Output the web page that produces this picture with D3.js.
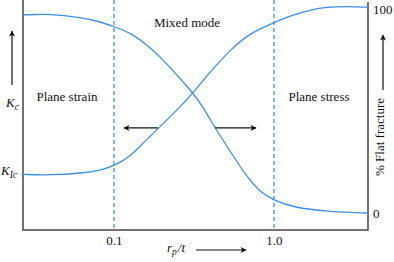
<!DOCTYPE html>
<html>
<head>
<meta charset="utf-8">
<script src="https://cdn.jsdelivr.net/npm/d3@7"></script>
<style>
  html, body { margin: 0; padding: 0; background: #fff; }
  svg { display: block; }
  text { font-family: "Liberation Serif", "Times New Roman", serif; fill: #111; }
</style>
</head>
<body>
<svg id="chart" width="394" height="262"></svg>
<script>
// ---- data ----
const xTickValues = [0.1, 1.0];
const xTickLabels = ["0.1", "1.0"];
const flatTickValues = [0, 100];
const flatTickLabels = ["0", "100"];
const kTickValues = [18.8, 52];
const kTickMain = ["K", "K"];
const kTickSub = ["Ic", "c"];

// % flat fracture curve (decreasing)
const flatX = [0.027, 0.040, 0.061, 0.082, 0.1, 0.126, 0.168, 0.224, 0.270, 0.312, 0.360, 0.428, 0.531, 0.678, 0.818, 1.0, 1.31, 2.14, 3.87];
const flatY = [97.1, 97.6, 96.0, 93.8, 91.3, 88.5, 81.4, 71.6, 64.2, 58.8, 52.0, 41.7, 30.4, 17.6, 10.3, 6.2, 2.9, 0.6, 0.0];

// toughness K curve (increasing), arbitrary units
const kX = [0.027, 0.040, 0.064, 0.082, 0.1, 0.126, 0.152, 0.188, 0.248, 0.312, 0.398, 0.531, 0.708, 1.0, 1.31, 1.68, 2.14, 2.86, 3.87];
const kY = [18.8, 18.4, 19.4, 20.8, 22.9, 27.4, 34.1, 40.9, 50.1, 58.4, 68.6, 79.3, 87.6, 92.6, 96.4, 98.8, 100.2, 100.5, 100.1];

// transition boundaries (dashed lines)
const boundaries = [0.1, 1.0];

// annotation arrows in the mixed-mode region: [from, to] in rp/t, at % level
const mixedArrows = [[0.188, 0.1155], [0.428, 0.772]];
const mixedArrowLevel = 41.7;

const regionLabels = ["Plane strain", "Mixed mode", "Plane stress"];

// ---- layout ----
const L = 23, R = 368, T = 0, B = 230;
const blue = "#3d8ee8";
const axisColor = "#444";

const svg = d3.select("#chart");

const x = d3.scaleLog().domain([0.027, 3.87]).range([L, R]);
const yFlat = d3.scaleLinear().domain([0, 100]).range([213, 9]);
const yK = d3.scaleLinear().domain([0, 100]).range([213, 7.5]);

// markers
const defs = svg.append("defs");
defs.append("marker")
  .attr("id", "head")
  .attr("viewBox", "0 0 10 10")
  .attr("refX", 9).attr("refY", 5)
  .attr("markerWidth", 8).attr("markerHeight", 6)
  .attr("markerUnits", "userSpaceOnUse")
  .attr("orient", "auto")
  .append("path").attr("d", "M0,0 L10,5 L0,10 L2.5,5 Z").attr("fill", "#111");

// dashed boundaries
svg.append("g").selectAll("line").data(boundaries).join("line")
  .attr("x1", d => x(d)).attr("x2", d => x(d))
  .attr("y1", T).attr("y2", B)
  .attr("stroke", blue).attr("stroke-width", 1.3)
  .attr("stroke-dasharray", "4,3");

// frame
svg.append("path")
  .attr("d", `M${L},${T} V${B} H${R} V${T + 2}`)
  .attr("fill", "none").attr("stroke", axisColor).attr("stroke-width", 1.5);

// curves
const flatData = flatX.map((v, i) => [v, flatY[i]]);
const kData = kX.map((v, i) => [v, kY[i]]);

svg.append("path").datum(flatData)
  .attr("fill", "none").attr("stroke", blue).attr("stroke-width", 1.3)
  .attr("d", d3.line().x(d => x(d[0])).y(d => yFlat(d[1])).curve(d3.curveBasis));

svg.append("path").datum(kData)
  .attr("fill", "none").attr("stroke", blue).attr("stroke-width", 1.3)
  .attr("d", d3.line().x(d => x(d[0])).y(d => yK(d[1])).curve(d3.curveBasis));

// bottom axis labels
const xAxis = d3.axisBottom(x).tickValues(xTickValues)
  .tickFormat((d, i) => xTickLabels[i]).tickSize(0).tickPadding(6);
const gx = svg.append("g").attr("transform", `translate(0,${B})`).call(xAxis);
gx.select(".domain").remove();
gx.selectAll("text").attr("font-size", 13).attr("font-family", "Liberation Serif").attr("fill", "#111");

// right axis labels
const yAxisR = d3.axisRight(yFlat).tickValues(flatTickValues)
  .tickFormat((d, i) => flatTickLabels[i]).tickSize(0).tickPadding(5);
const gr = svg.append("g").attr("transform", `translate(${R},0)`).call(yAxisR);
gr.select(".domain").remove();
gr.selectAll("text").attr("font-size", 13).attr("font-family", "Liberation Serif").attr("fill", "#111");

// left K labels
const kl = svg.append("g").selectAll("text").data(kTickValues).join("text")
  .attr("x", (d, i) => i === 0 ? 1 : 6)
  .attr("y", d => yK(d) + 1)
  .attr("font-size", 13).attr("font-style", "italic");
kl.append("tspan").text((d, i) => kTickMain[i]);
kl.append("tspan").attr("dy", 3).attr("font-size", 9.5).text((d, i) => kTickSub[i]);

// region labels
svg.append("text").attr("x", 67).attr("y", 101).attr("text-anchor", "middle").attr("font-size", 13).text(regionLabels[0]);
svg.append("text").attr("x", 187).attr("y", 27).attr("text-anchor", "middle").attr("font-size", 13).text(regionLabels[1]);
svg.append("text").attr("x", 319).attr("y", 101).attr("text-anchor", "middle").attr("font-size", 13).text(regionLabels[2]);

// mixed-mode arrows
svg.append("g").selectAll("line").data(mixedArrows).join("line")
  .attr("x1", d => x(d[0])).attr("x2", d => x(d[1]))
  .attr("y1", yFlat(mixedArrowLevel)).attr("y2", yFlat(mixedArrowLevel))
  .attr("stroke", "#111").attr("stroke-width", 1.2)
  .attr("marker-end", "url(#head)");

// axis direction arrows
svg.append("line").attr("x1", 12).attr("x2", 12).attr("y1", 85).attr("y2", 31)
  .attr("stroke", "#111").attr("stroke-width", 1.2).attr("marker-end", "url(#head)");
svg.append("line").attr("x1", 383).attr("x2", 383).attr("y1", 90).attr("y2", 35)
  .attr("stroke", "#111").attr("stroke-width", 1.2).attr("marker-end", "url(#head)");
svg.append("line").attr("x1", 196).attr("x2", 246).attr("y1", 250).attr("y2", 250)
  .attr("stroke", "#111").attr("stroke-width", 1.2).attr("marker-end", "url(#head)");

// right axis title
svg.append("text")
  .attr("transform", "translate(384,137) rotate(-90)")
  .attr("text-anchor", "middle").attr("font-size", 13)
  .text("% Flat fracture");

// x axis title r_p/t
const xt = svg.append("text").attr("x", 167).attr("y", 252).attr("font-size", 13).attr("font-style", "italic");
xt.append("tspan").text("r");
xt.append("tspan").attr("dy", 3).attr("font-size", 9.5).text("p");
xt.append("tspan").attr("dy", -3).attr("dx", 1).text("/t");
</script>
</body>
</html>
